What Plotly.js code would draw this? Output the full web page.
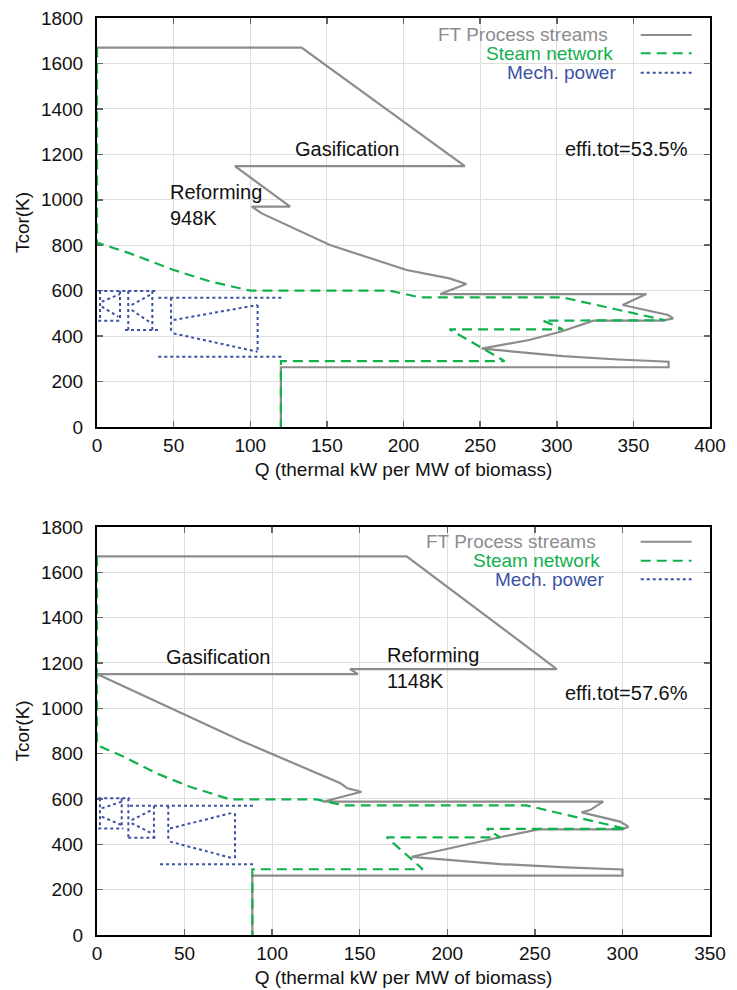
<!DOCTYPE html>
<html>
<head>
<meta charset="utf-8">
<script src="https://cdn.plot.ly/plotly-3.0.1.min.js"></script>
<style>html,body{margin:0;padding:0;background:#fff;}#chart{width:737px;height:990px;}</style>
</head>
<body>
<div id="chart"></div>
<script>
// ---------- Top chart (Reforming 948K) ----------
const ftTopQ = [0, 133.5, 240, 90, 126, 101, 107.5, 152, 202, 230, 241, 224, 358.5, 343, 372.7, 376, 369, 324, 303, 282, 251, 304, 337, 373, 373, 120, 120];
const ftTopT = [1670, 1670, 1148, 1148, 970, 970, 940, 801, 691, 654, 629, 585, 585, 537, 493, 478, 468, 468, 420, 383, 345, 312, 298, 287, 263, 263, 0];

const stTopQ = [0, 0, 21.5, 50, 74, 100, 191, 211, 304, 370.5, 291, 304, 230, 266, 120, 120];
const stTopT = [1670, 812, 764, 691, 640, 600, 600, 570, 570, 470, 468, 430, 430, 290, 290, 0];

const mpTopQ = [0.8, 38.9, null, 40, 121.5, null, 0.8, 16.1, null, 18.3, 40, null, 40, 121.5, null,
  2, 2, null, 15, 15, null, 20.4, 20.4, null, 36.1, 36.1, null, 48.3, 48.3, null, 104.8, 104.8, null,
  3.1, 15, null, 3.1, 13.9, null, 22.6, 35.7, null, 22.6, 35.7, null, 50, 104.8, null, 50, 104.8];
const mpTopT = [599, 599, null, 569, 569, null, 468, 468, null, 427, 427, null, 309, 309, null,
  599, 468, null, 599, 468, null, 599, 427, null, 599, 427, null, 569, 412, null, 537, 331, null,
  551, 585, null, 530, 485, null, 537, 585, null, 515, 456, null, 471, 537, null, 412, 331];

// ---------- Bottom chart (Reforming 1148K) ----------
const ftBotQ = [0, 176.8, 262.5, 144.5, 149, 0, 82, 90, 139, 143, 151, 129, 289, 281.5, 276.7, 298.6, 303.4, 300, 252, 230, 179.6, 230, 268, 300, 300, 88.7, 88.7];
const ftBotT = [1670, 1670, 1173, 1173, 1151, 1151, 858, 832, 669, 647, 632, 588, 588, 551, 541, 500, 478, 466, 466, 431, 345, 313, 298, 289, 262, 262, 0];

const stBotQ = [0, 0, 15, 34, 53, 76, 125.4, 140.6, 245, 302, 222.5, 230, 165.4, 186, 88.7, 88.7];
const stBotT = [1670, 838, 787, 713, 654, 598, 598, 572, 572, 468, 468, 431, 431, 290, 290, 0];

const mpBotQ = [0.7, 18.8, null, 18.8, 89.2, null, 0.7, 15, null, 17.9, 34, null, 36, 89.2, null,
  1.7, 1.7, null, 14.1, 14.1, null, 17.9, 17.9, null, 32.5, 32.5, null, 40.7, 40.7, null, 78.8, 78.8, null,
  2.7, 14.1, null, 2.7, 14.1, null, 19.8, 31.2, null, 19.8, 31.2, null, 41.7, 77.8, null, 41.7, 77.8];
const mpBotT = [603, 603, null, 570, 570, null, 470, 470, null, 429, 429, null, 312, 312, null,
  603, 470, null, 603, 470, null, 603, 429, null, 570, 429, null, 570, 412, null, 537, 331, null,
  559, 588, null, 522, 485, null, 507, 551, null, 493, 449, null, 470, 540, null, 412, 338];

const seriesNames = ["FT Process streams", "Steam network", "Mech. power"];
const topLabels = {gas: "Gasification", ref: "Reforming<br>948K", effi: "effi.tot=53.5%"};
const botLabels = {gas: "Gasification", ref: "Reforming<br>1148K", effi: "effi.tot=57.6%"};

const GRAY = "#8c8c8e", GREEN = "#12b04e", BLUE = "#3a52a6";
const FONT = "Liberation Sans, Arial, sans-serif";
const DASH = "10px,6px";

function tr(x, y, color, dash, xa, ya, w) {
  return {x: x, y: y, xaxis: xa, yaxis: ya, type: "scatter", mode: "lines", cliponaxis: false,
    line: {color: color, width: w, dash: dash}, showlegend: false, hoverinfo: "skip", connectgaps: false};
}

const data = [
  tr(ftTopQ, ftTopT, GRAY, "solid", "x", "y", 2.2),
  tr(stTopQ, stTopT, GREEN, DASH, "x", "y", 2.2),
  tr(mpTopQ, mpTopT, BLUE, "dot", "x", "y", 2),
  tr(ftBotQ, ftBotT, GRAY, "solid", "x2", "y2", 2.2),
  tr(stBotQ, stBotT, GREEN, DASH, "x2", "y2", 2.2),
  tr(mpBotQ, mpBotT, BLUE, "dot", "x2", "y2", 2)
];

function xax(range, anchor) {
  return {range: range, dtick: 50, anchor: anchor, showgrid: true, gridcolor: "#dedede", gridwidth: 1,
    zeroline: false, showline: true, linecolor: "#000", linewidth: 2, mirror: "ticks", layer: "below traces",
    ticks: "inside", ticklen: 6, tickcolor: "#666", tickwidth: 1.5,
    tickfont: {family: FONT, size: 19, color: "#111"},
    title: {text: "Q (thermal kW per MW of biomass)", font: {family: FONT, size: 19, color: "#111"}, standoff: 8}};
}
function yax(domain, anchor) {
  return {range: [0, 1800], dtick: 200, domain: domain, anchor: anchor, showgrid: true, gridcolor: "#dedede", gridwidth: 1,
    zeroline: false, showline: true, linecolor: "#000", linewidth: 2, mirror: "ticks", layer: "below traces",
    ticks: "inside", ticklen: 6, tickcolor: "#666", tickwidth: 1.5, ticklabelstandoff: 8,
    tickfont: {family: FONT, size: 19, color: "#111"},
    title: {text: "Tcor(K)", font: {family: FONT, size: 19, color: "#111"}, standoff: 6}};
}

const annotations = [];
function label(text, x, y, xa, ya, xanchor) {
  annotations.push({text: text, x: x, y: y, xref: xa, yref: ya, xanchor: xanchor, yanchor: "middle",
    align: "left", showarrow: false, font: {family: FONT, size: 20, color: "#111"}});
}
label(topLabels.gas, 163.7, 1224, "x", "y", "center");
label(topLabels.ref, 46.3, 976, "x", "y", "left");
label(topLabels.effi, 387, 1224, "x", "y", "right");
label(botLabels.gas, 69.1, 1226, "x2", "y2", "center");
label(botLabels.ref, 164.4, 1178, "x2", "y2", "left");
label(botLabels.effi, 338.6, 1067, "x2", "y2", "right");

// manual legends (text on left, sample on right)
const shapes = [];
const colors = [GRAY, GREEN, BLUE];
const dashes = ["solid", DASH, "dot"];
function legend(textRight, ys) {
  for (let i = 0; i < 3; i++) {
    annotations.push({text: seriesNames[i], x: textRight[i], y: ys[i], xref: "paper", yref: "paper",
      xanchor: "right", yanchor: "middle", showarrow: false, borderpad: 0,
      font: {family: FONT, size: 19, color: colors[i]}});
    shapes.push({type: "line", xref: "paper", yref: "paper", x0: 0.887, x1: 0.970, y0: ys[i], y1: ys[i],
      line: {color: colors[i], width: 2, dash: dashes[i]}});
  }
}
legend([0.835, 0.843, 0.848], [0.9815, 0.9615, 0.9403]);
legend([0.816, 0.823, 0.829], [0.4289, 0.4082, 0.3879]);

const layout = {
  width: 737, height: 990,
  margin: {l: 97, r: 27, t: 18, b: 55},
  paper_bgcolor: "#fff", plot_bgcolor: "#fff",
  showlegend: false,
  xaxis: xax([0, 400], "y"),
  yaxis: yax([0.554, 1], "x"),
  xaxis2: xax([0, 350], "y2"),
  yaxis2: yax([0, 0.445], "x2"),
  annotations: annotations,
  shapes: shapes,
  font: {family: FONT}
};

Plotly.newPlot("chart", data, layout, {staticPlot: true, displayModeBar: false});
</script>
</body>
</html>
